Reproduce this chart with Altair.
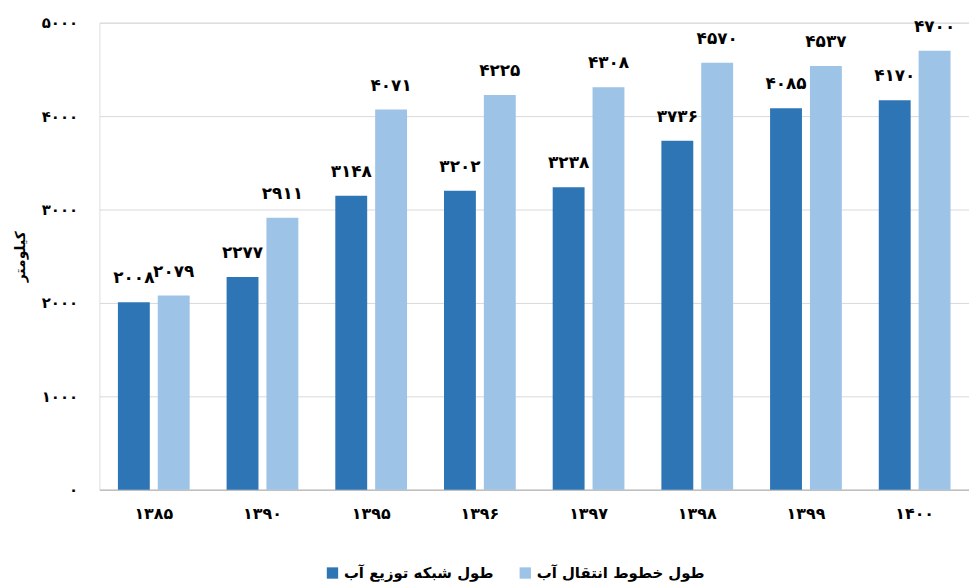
import altair as alt
import pandas as pd

years = ["1385", "1390", "1395", "1396", "1397", "1398", "1399", "1400"]
distribution = [2008, 2277, 3148, 3202, 3238, 3736, 4085, 4170]
transmission = [2079, 2911, 4071, 4225, 4308, 4570, 4537, 4700]
series_names = ["طول شبکه توزیع آب", "طول خطوط انتقال آب"]
colors = ["#2E75B6", "#9DC3E6"]

FA = str.maketrans("0123456789", "۰۱۲۳۴۵۶۷۸۹")

def fa(s):
    return str(s).translate(FA)

rows = []
for y, d, t in zip(years, distribution, transmission):
    rows.append({"year": fa(y), "series": series_names[0], "value": d, "label": fa(d)})
    rows.append({"year": fa(y), "series": series_names[1], "value": t, "label": fa(t)})
df = pd.DataFrame(rows)
year_order = [fa(y) for y in years]

FONT = "DejaVu Sans"

x = alt.X("year:N", sort=year_order, title=None,
          scale=alt.Scale(paddingInner=0.34, paddingOuter=0.17),
          axis=alt.Axis(labelAngle=0, labelFontSize=16, labelFontWeight="bold",
                        labelFont=FONT, labelColor="#000", labelPadding=16,
                        ticks=False, domainColor="#bfbfbf", domainWidth=1.5, grid=False))
xo = alt.XOffset("series:N", sort=series_names, scale=alt.Scale(paddingInner=0.2))
y = alt.Y("value:Q", title="کیلومتر",
          scale=alt.Scale(domain=[0, 5000], nice=False),
          axis=alt.Axis(values=[0, 1000, 2000, 3000, 4000, 5000], format="d",
                        labelExpr="replace(replace(replace(replace(replace(replace(datum.label,/0/g,'۰'),/1/g,'۱'),/2/g,'۲'),/3/g,'۳'),/4/g,'۴'),/5/g,'۵')",
                        labelFontSize=15, labelFontWeight="bold", labelFont=FONT,
                        labelColor="#000", labelPadding=22, ticks=False, domain=False,
                        gridColor="#d9d9d9", gridWidth=1,
                        titleFont=FONT, titleFontSize=14, titleFontWeight="bold",
                        titleColor="#000", titlePadding=14))

color = alt.Color("series:N",
                  scale=alt.Scale(domain=series_names, range=colors),
                  legend=alt.Legend(title=None, orient="none", direction="horizontal",
                                    legendX=227, legendY=546,
                                    symbolType="square", symbolSize=130,
                                    labelFont=FONT, labelFontSize=15, labelLimit=300,
                                    labelFontWeight="bold", labelColor="#000",
                                    columnPadding=24, symbolStrokeWidth=0))

bars = alt.Chart(df).mark_bar().encode(x=x, xOffset=xo, y=y, color=color)
labels = alt.Chart(df).mark_text(baseline="bottom", dy=-15, font=FONT, fontSize=17,
                                 fontWeight="bold", color="#000").encode(
    x=alt.X("year:N", sort=year_order), xOffset=xo, y="value:Q", text="label:N")

chart = alt.layer(bars, labels).properties(
    width=875, height=470,
    padding={"left": 5, "top": 6, "right": 0, "bottom": 0}
).configure_view(stroke=None).configure(background="white")

chart.save("out.html", embed_options={"renderer": "svg", "actions": False})
